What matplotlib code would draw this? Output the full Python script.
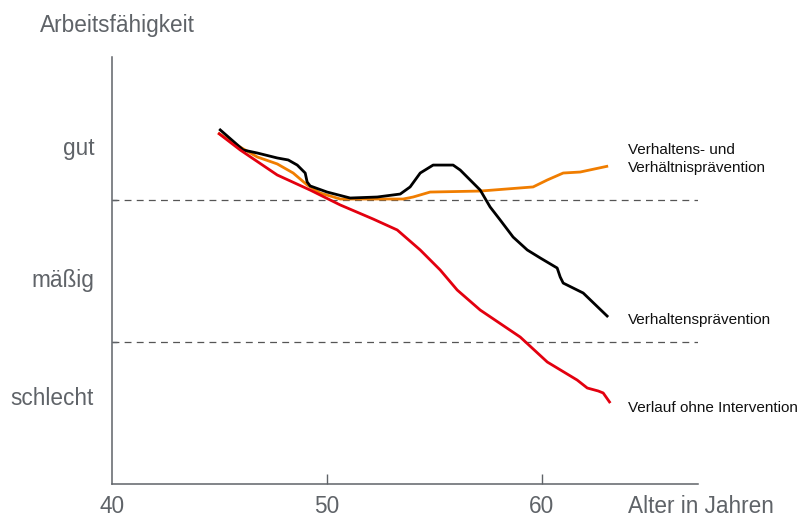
import matplotlib
matplotlib.use("Agg")
import matplotlib.pyplot as plt

plt.rcParams['font.family'] = ['Liberation Sans', 'DejaVu Sans']

# Data (age in years, work ability level: 1 = boundary schlecht/mäßig, 2 = boundary mäßig/gut)
age_black = [45.0, 46.12, 46.77, 47.70, 48.21, 48.63, 49.0, 49.09, 49.23, 50.02, 51.09, 52.35,
             53.42, 53.88, 54.35, 54.95, 55.88, 56.21, 57.14, 57.60, 58.07, 58.67, 59.33,
             59.93, 60.72, 60.86, 61.0, 61.93, 63.09]
val_black = [2.50, 2.352, 2.331, 2.296, 2.282, 2.246, 2.190, 2.127, 2.099, 2.056, 2.014, 2.021,
             2.042, 2.092, 2.190, 2.246, 2.246, 2.211, 2.070, 1.951, 1.859, 1.739, 1.648,
             1.592, 1.521, 1.458, 1.415, 1.345, 1.176]

age_orange = [44.95, 45.65, 46.77, 47.70, 48.44, 49.09, 49.70, 50.63, 53.56, 54.02, 54.81,
              57.14, 59.60, 60.26, 61.0, 61.79, 63.09]
val_orange = [2.472, 2.401, 2.303, 2.254, 2.190, 2.106, 2.049, 2.007, 2.007, 2.021, 2.056,
              2.063, 2.092, 2.141, 2.190, 2.197, 2.239]

age_red = [44.95, 45.98, 47.70, 49.23, 50.63, 52.16, 53.28, 54.35, 55.28, 56.07, 57.14,
           59.0, 60.26, 61.65, 62.12, 62.63, 62.86, 63.19]
val_red = [2.472, 2.352, 2.176, 2.070, 1.965, 1.866, 1.789, 1.648, 1.507, 1.366, 1.225,
           1.035, 0.859, 0.732, 0.676, 0.655, 0.641, 0.570]

boundaries = [1.0, 2.0]
level_labels = ['gut', 'mäßig', 'schlecht']
level_label_y = [2.317, 1.387, 0.556]
x_ticks = [40, 50, 60]
x_ticklabels = ['40', '50', '60']
series_labels = ['Verhaltens- und', 'Verhältnisprävention', 'Verhaltensprävention',
                 'Verlauf ohne Intervention']

W, H = 799, 517
fig = plt.figure(figsize=(W / 100, H / 100), dpi=100)
ax = fig.add_axes([111.7 / W, 33 / H, (698 - 111.7) / W, (484 - 57) / H])
ax.set_xlim(40, 40 + 586.3 / 21.5)
ax.set_ylim(0, 427 / 142)

grey = '#5f6368'
for s in ['top', 'right']:
    ax.spines[s].set_visible(False)
for s in ['left', 'bottom']:
    ax.spines[s].set_color(grey)
    ax.spines[s].set_linewidth(1.1)

for b in boundaries:
    ax.axhline(b, color='#555555', lw=0.9, dashes=(5.5, 4.2), zorder=1)

ax.plot(age_orange, val_orange, color='#f07d00', lw=2.0, zorder=3, solid_capstyle='butt')
ax.plot(age_black, val_black, color='#000000', lw=2.0, zorder=4, solid_capstyle='butt')
ax.plot(age_red, val_red, color='#e3000f', lw=2.0, zorder=5, solid_capstyle='butt')

# ticks
ax.set_xticks(x_ticks[1:])
ax.set_xticklabels([])
ax.tick_params(axis='x', direction='in', length=7.5, width=1.0, color=grey)
ax.set_yticks(boundaries)
ax.set_yticklabels([])
ax.tick_params(axis='y', direction='in', length=3.5, width=1.0, color=grey)

fs_big = 16.3
# x tick labels
for xt, lab in zip(x_ticks, x_ticklabels):
    ax.text(xt, -(513 - 484) / 427, lab, transform=ax.get_xaxis_transform(), ha='center',
            va='baseline', fontsize=fs_big, color=grey)

fig.text(628 / W, 1 - 513 / H, 'Alter in Jahren', ha='left', va='baseline', fontsize=fs_big, color=grey)
fig.text(40 / W, 1 - 32 / H, 'Arbeitsfähigkeit', ha='left', va='baseline', fontsize=fs_big, color=grey)

for lab, yv in zip(level_labels, level_label_y):
    ax.text(-(111.7 - 94) / 586.3, yv, lab, transform=ax.get_yaxis_transform(), ha='right',
            va='baseline', fontsize=fs_big, color=grey)

fs_small = 11
for lab, by in zip(series_labels, [154.3, 171.7, 324.3, 411.7]):
    fig.text(628 / W, 1 - by / H, lab, ha='left', va='baseline', fontsize=fs_small, color='#111111')

fig.savefig('out.png', dpi=100)
